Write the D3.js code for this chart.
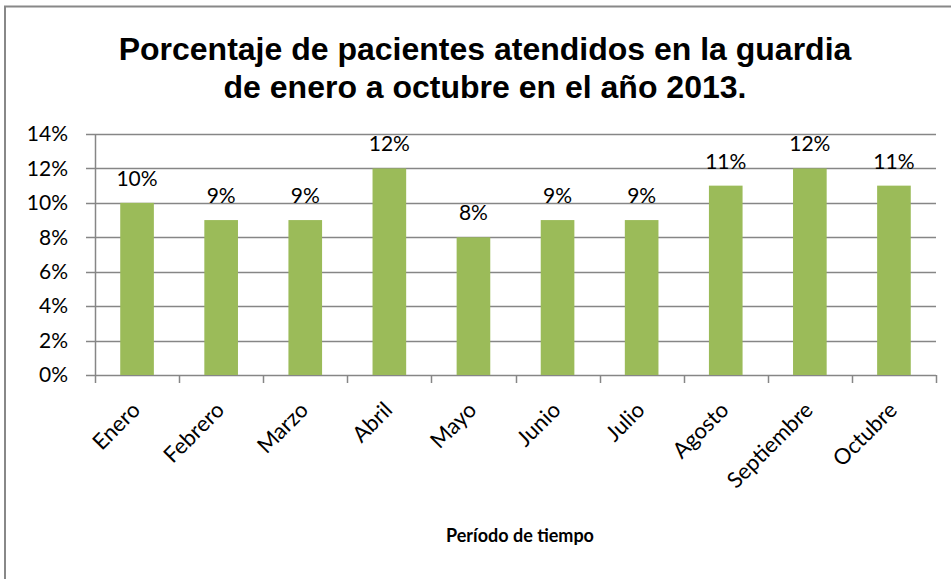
<!DOCTYPE html>
<meta charset="utf-8">
<head>
  <title>Pacientes atendidos en la guardia</title>
</head>
<style>
  body { margin: 0; background: #fff; }
  svg text { fill: #000; }
  .tick-label { font-family: Lato, "Open Sans", sans-serif; font-size: 21px; }
  .month-label { font-family: Lato, "Open Sans", sans-serif; font-size: 22px; }
</style>
<body>
  <svg width="951" height="579"></svg>

  <script src="https://cdnjs.cloudflare.com/ajax/libs/d3/7.8.5/d3.min.js"></script>
  <script>
  var months = ['Enero', 'Febrero', 'Marzo', 'Abril', 'Mayo', 'Junio', 'Julio', 'Agosto', 'Septiembre', 'Octubre'];
  var percents = [10, 9, 9, 12, 8, 9, 9, 11, 12, 11];
  var yTicks = [0, 2, 4, 6, 8, 10, 12, 14];
  var titleLines = ['Porcentaje de pacientes atendidos en la guardia', 'de enero a octubre en el año 2013.'];
  var xTitle = 'Período de tiempo';

  (function() {
    var svg = d3.select('svg');

    // outer frame (right and bottom edges fall outside the picture)
    svg.append('rect')
      .attr('x', 5).attr('y', 6.5)
      .attr('width', 960).attr('height', 600)
      .attr('fill', 'none')
      .attr('stroke', '#888')
      .attr('stroke-width', 2);

    var plotLeft = 95, plotRight = 936, plotTop = 134, plotBottom = 375;

    var x = d3.scaleBand().domain(months).range([plotLeft, plotRight]).paddingInner(0.6).paddingOuter(0.3);
    var xTicks = d3.scaleBand().domain(months).range([plotLeft, plotRight]);
    var y = d3.scaleLinear().domain([0, 14]).range([plotBottom, plotTop]);

    // gridlines
    svg.append('g')
      .selectAll('line')
      .data(yTicks)
      .join('line')
      .attr('x1', plotLeft - 9).attr('x2', plotRight)
      .attr('y1', function(d) { return Math.round(y(d)) + 0.5; })
      .attr('y2', function(d) { return Math.round(y(d)) + 0.5; })
      .attr('stroke', '#868686')
      .attr('stroke-width', 1.5);

    // y axis labels
    svg.append('g')
      .selectAll('text')
      .data(yTicks)
      .join('text')
      .attr('class', 'tick-label')
      .attr('x', 68)
      .attr('y', function(d) { return y(d); })
      .attr('dy', '0.35em')
      .attr('text-anchor', 'end')
      .text(function(d) { return d + '%'; });

    // y axis line
    svg.append('line')
      .attr('x1', plotLeft + 0.5).attr('x2', plotLeft + 0.5)
      .attr('y1', plotTop).attr('y2', plotBottom)
      .attr('stroke', '#868686').attr('stroke-width', 1.5);

    // x tick marks
    var tickPos = months.map(function(m) { return xTicks(m); }).concat([plotRight]);
    svg.append('g')
      .selectAll('line')
      .data(tickPos)
      .join('line')
      .attr('x1', function(d) { return Math.round(d) + 0.5; })
      .attr('x2', function(d) { return Math.round(d) + 0.5; })
      .attr('y1', plotBottom).attr('y2', plotBottom + 8)
      .attr('stroke', '#868686').attr('stroke-width', 1.5);

    // bars
    svg.append('g')
      .selectAll('rect')
      .data(percents)
      .join('rect')
      .attr('x', function(d, i) { return x(months[i]); })
      .attr('width', x.bandwidth())
      .attr('y', function(d) { return y(d); })
      .attr('height', function(d) { return plotBottom - y(d); })
      .attr('fill', '#9BBB59');

    // value labels
    svg.append('g')
      .selectAll('text')
      .data(percents)
      .join('text')
      .attr('class', 'tick-label')
      .attr('x', function(d, i) { return x(months[i]) + x.bandwidth() / 2; })
      .attr('y', function(d) { return y(d) - 17; })
      .attr('text-anchor', 'middle')
      .text(function(d) { return d + '%'; });

    // month labels, rotated
    svg.append('g')
      .selectAll('text')
      .data(months)
      .join('text')
      .attr('class', 'month-label')
      .attr('text-anchor', 'end')
      .attr('transform', function(d) {
        var cx = x(d) + x.bandwidth() / 2 - 1;
        return 'translate(' + cx + ',' + (plotBottom + 31) + ') rotate(-45)';
      })
      .attr('dy', '0.35em')
      .text(function(d) { return d; });

    // axis title
    svg.append('text')
      .attr('x', 520).attr('y', 542)
      .attr('text-anchor', 'middle')
      .style('font-family', 'Lato, "Open Sans", sans-serif')
      .style('font-size', '18px')
      .style('font-weight', 'bold')
      .text(xTitle);

    // chart title
    svg.append('g')
      .selectAll('text')
      .data(titleLines)
      .join('text')
      .attr('x', 485)
      .attr('y', function(d, i) { return 60 + i * 38; })
      .attr('text-anchor', 'middle')
      .style('font-family', '"Liberation Sans", Arial, sans-serif')
      .style('font-size', '32px')
      .style('font-weight', 'bold')
      .text(function(d) { return d; });
  })();
  </script>
</body>
</html>
